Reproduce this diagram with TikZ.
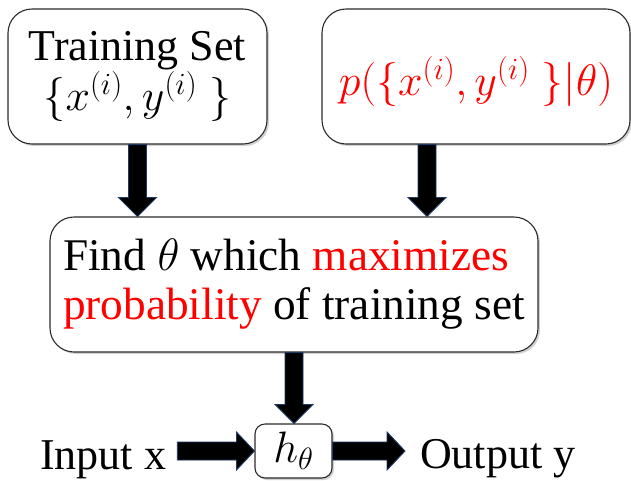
\RequirePackage{fix-cm}
\documentclass[tikz,border=0pt]{standalone}
\usepackage{fontspec}
\setmainfont{Liberation Serif}
\usetikzlibrary{calc,shadows}
\definecolor{hotred}{RGB}{255,0,0}
\definecolor{arrowedge}{HTML}{1F3864}
\definecolor{boxedge}{HTML}{2B2B2B}

% Block arrow pointing down: from the point #1 straight down to the height of #2
\newcommand{\blockdown}[2]{%
  \path[blockarrow] let \p1=(#1), \p2=(#2) in
    (\x1-9pt,\y1) -- (\x1-9pt,\y2+19pt) -- (\x1-19pt,\y2+19pt) -- (\x1,\y2)
    -- (\x1+19pt,\y2+19pt) -- (\x1+9pt,\y2+19pt) -- (\x1+9pt,\y1) -- cycle;}
% Block arrow pointing right: from the point #1 straight right to #2
\newcommand{\blockright}[2]{%
  \path[blockarrow] let \p1=(#1), \p2=(#2) in
    (\x1,\y1+9pt) -- (\x2-18pt,\y1+9pt) -- (\x2-18pt,\y1+19pt) -- (\x2,\y1)
    -- (\x2-18pt,\y1-19pt) -- (\x2-18pt,\y1-9pt) -- (\x1,\y1-9pt) -- cycle;}

\begin{document}
\begin{tikzpicture}[x=1pt,y=-1pt,
  card/.style={draw=boxedge, line width=1.1pt, fill=white, rounded corners=24pt,
    inner sep=0pt, align=center,
    drop shadow={shadow xshift=2pt, shadow yshift=-2pt, opacity=0.18, fill=black}},
  plaintext/.style={inner sep=0pt, anchor=base west},
  blockarrow/.style={fill=black, draw=arrowedge, line width=0.9pt, line join=miter},
  font=\fontsize{44}{47}\selectfont]

\useasboundingbox (0,0) rectangle (631,480);

% the three boxes of the upper part
\node[card, minimum width=259pt, minimum height=135pt] (train) at (137.5,76.5)
  {Training Set\\ $\{x^{(i)},y^{(i)}\;\}$};
\node[card, minimum width=308pt, minimum height=135pt, text height=40pt,
  text depth=3pt, text=hotred] (prob) at (476,76.5)
  {$p(\{x^{(i)},y^{(i)}\;\}|\theta)$};
\node[card, minimum width=488pt, minimum height=135pt, align=left,
  font=\fontsize{45.3}{49}\selectfont] (find) at (294,284.5)
  {Find $\theta$ which \textcolor{hotred}{maximizes}\\
   \textcolor{hotred}{probability} of training set};

% hypothesis with its input and output
\node[card, rounded corners=10pt, minimum width=77pt, minimum height=54pt] (h)
  at (293.5,451) {$h_\theta$};
\node[plaintext] (input) at (40,469) {Input x};
\node[plaintext] (output) at (420,468) {Output y};

\coordinate (instart) at ($(input.east |- h.west)+(11,0)$);
\coordinate (outtip) at ($(output.west |- h.east)+(-15,0)$);

% connectors
\blockdown{train.south}{find.north}
\blockdown{[xshift=-49pt]prob.south}{find.north}
\blockdown{find.south}{h.north}
\blockright{instart}{h.west}
\blockright{h.east}{outtip}
\end{tikzpicture}
\end{document}
